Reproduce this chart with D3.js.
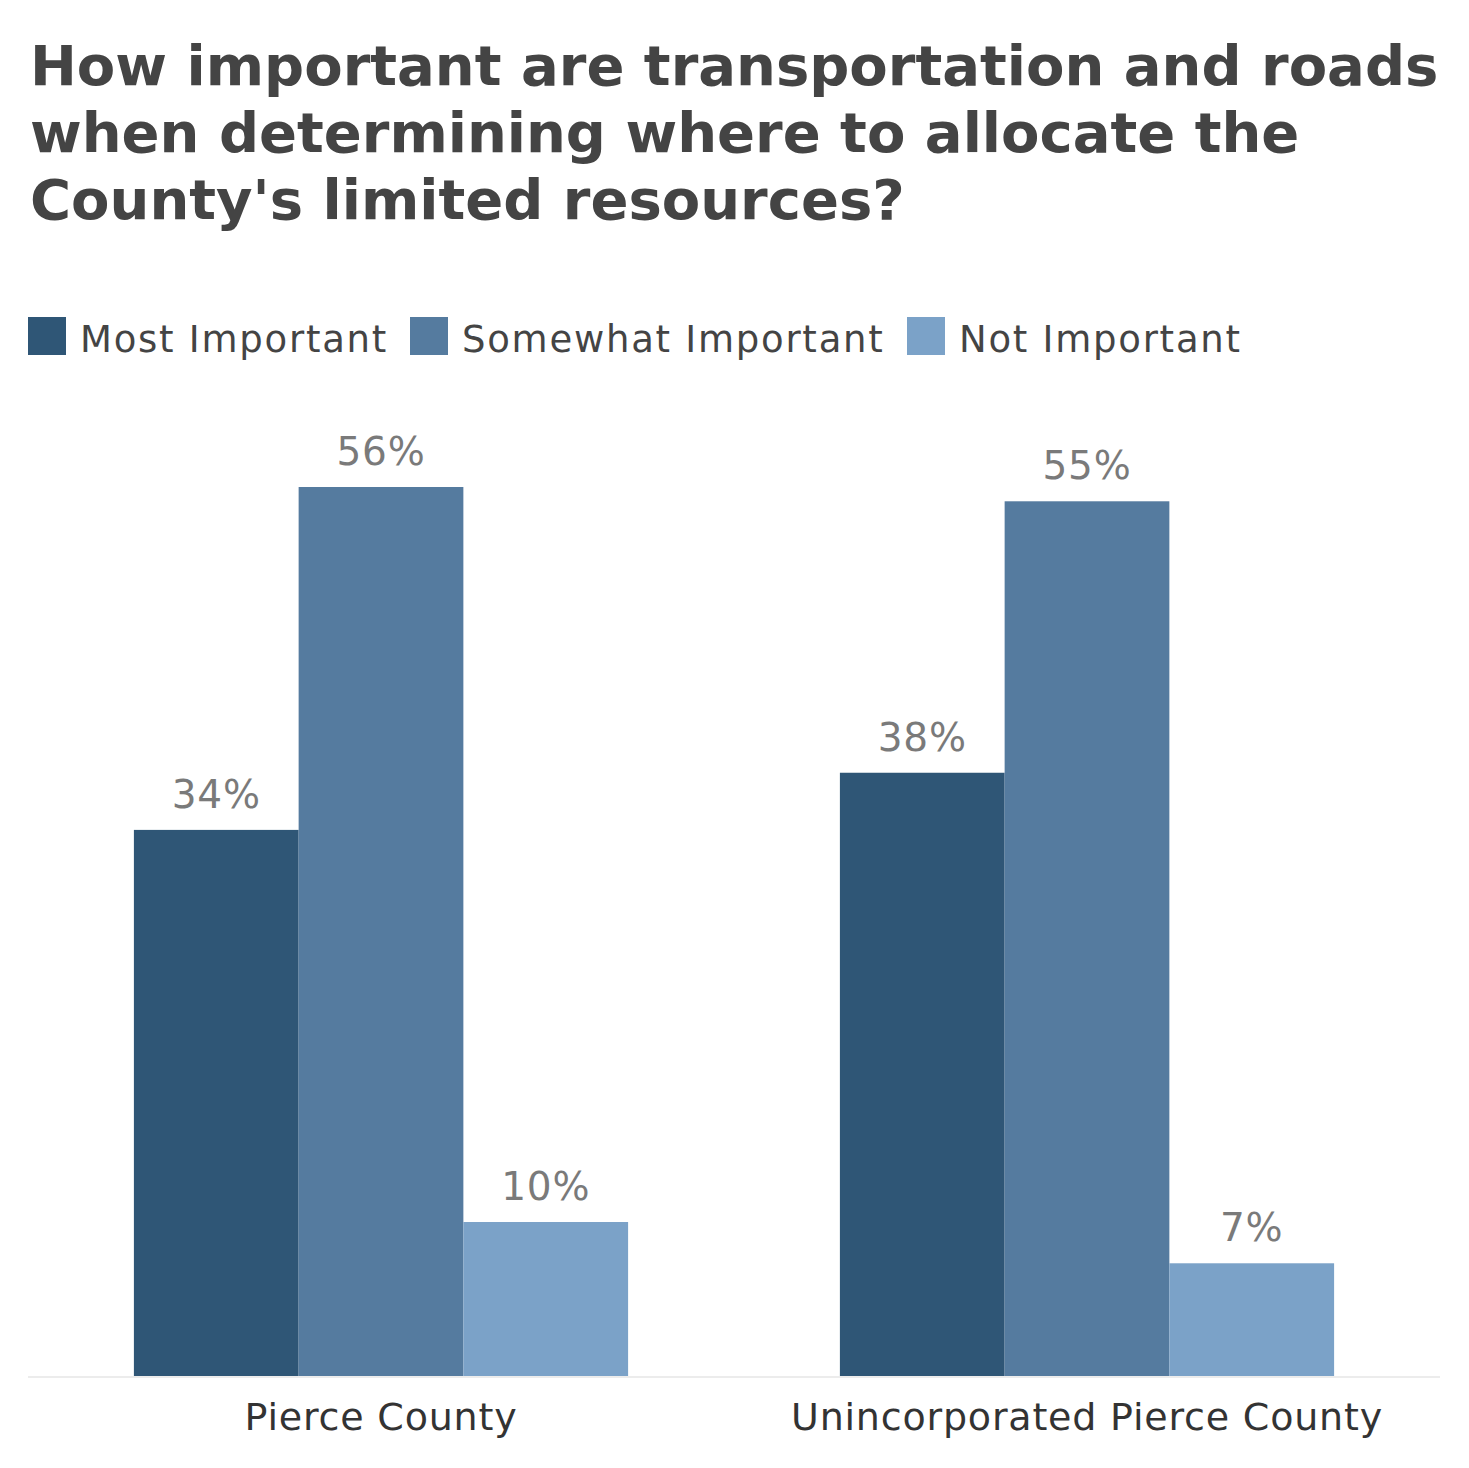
<!DOCTYPE html>
<html>
<head>
<meta charset="utf-8">
<script src="https://cdn.jsdelivr.net/npm/d3@7"></script>
<style>
  html, body { margin: 0; padding: 0; background: #fff; }
  svg { display: block; }
</style>
</head>
<body>
<script>
const titleLines = [
  "How important are transportation and roads",
  "when determining where to allocate the",
  "County's limited resources?"
];
const categories = ["Pierce County", "Unincorporated Pierce County"];
const seriesNames = ["Most Important", "Somewhat Important", "Not Important"];
const mostImportant = [34.4, 38.0];
const somewhatImportant = [56.0, 55.1];
const notImportant = [9.7, 7.1];
const colors = ["#2f5676", "#557b9f", "#7ba2c8"];

const W = 1469, H = 1468;
const svg = d3.select("body").append("svg").attr("width", W).attr("height", H);

const font = "'DejaVu Sans', Verdana, sans-serif";

// Title
svg.append("g").selectAll("text").data(titleLines).join("text")
  .attr("x", 30)
  .attr("y", (d, i) => 85 + i * 67)
  .attr("font-family", font)
  .attr("font-weight", "bold")
  .attr("font-size", 56)
  .attr("fill", "#444")
  .text(d => d);

// Legend
const legendX = [28, 410, 907];
const lg = svg.append("g");
seriesNames.forEach((s, i) => {
  lg.append("rect").attr("x", legendX[i]).attr("y", 317).attr("width", 38).attr("height", 38).attr("fill", colors[i]);
  lg.append("text").attr("x", legendX[i] + 52).attr("y", 352)
    .attr("font-family", font).attr("font-size", 37).attr("letter-spacing", 1.75)
    .attr("fill", "#444").text(s);
});

// Scales
const x0 = d3.scaleBand().domain(categories).range([28, 1440]).paddingInner(0.3).paddingOuter(0.15);
const x1 = d3.scaleBand().domain(seriesNames).range([0, x0.bandwidth()]);
const y = d3.scaleLinear().domain([0, 56]).range([1376, 487]);

const series = [mostImportant, somewhatImportant, notImportant];
const data = [];
categories.forEach((c, ci) => {
  seriesNames.forEach((s, si) => {
    data.push({ cat: c, ser: s, si, v: series[si][ci] });
  });
});

// baseline
svg.append("line").attr("x1", 28).attr("x2", 1440).attr("y1", 1377).attr("y2", 1377)
  .attr("stroke", "#ececec").attr("stroke-width", 2);

svg.append("g").selectAll("rect").data(data).join("rect")
  .attr("x", d => x0(d.cat) + x1(d.ser))
  .attr("width", x1.bandwidth())
  .attr("y", d => y(d.v))
  .attr("height", d => y(0) - y(d.v))
  .attr("fill", d => colors[d.si]);

svg.append("g").selectAll("text").data(data).join("text")
  .attr("x", d => x0(d.cat) + x1(d.ser) + x1.bandwidth() / 2)
  .attr("y", d => y(d.v) - 22)
  .attr("text-anchor", "middle")
  .attr("font-family", font).attr("font-size", 39).attr("letter-spacing", 0.8).attr("fill", "#7a7a7a")
  .text(d => Math.round(d.v) + "%");

// x axis labels
const xAxis = d3.axisBottom(x0).tickSize(0).tickPadding(0);
const ax = svg.append("g").attr("transform", "translate(0,1377)").call(xAxis);
ax.select(".domain").remove();
ax.selectAll("text").attr("font-family", font).attr("font-size", 38).attr("letter-spacing", 0.8)
  .attr("fill", "#333").attr("dy", null).attr("y", 53);
</script>
</body>
</html>
